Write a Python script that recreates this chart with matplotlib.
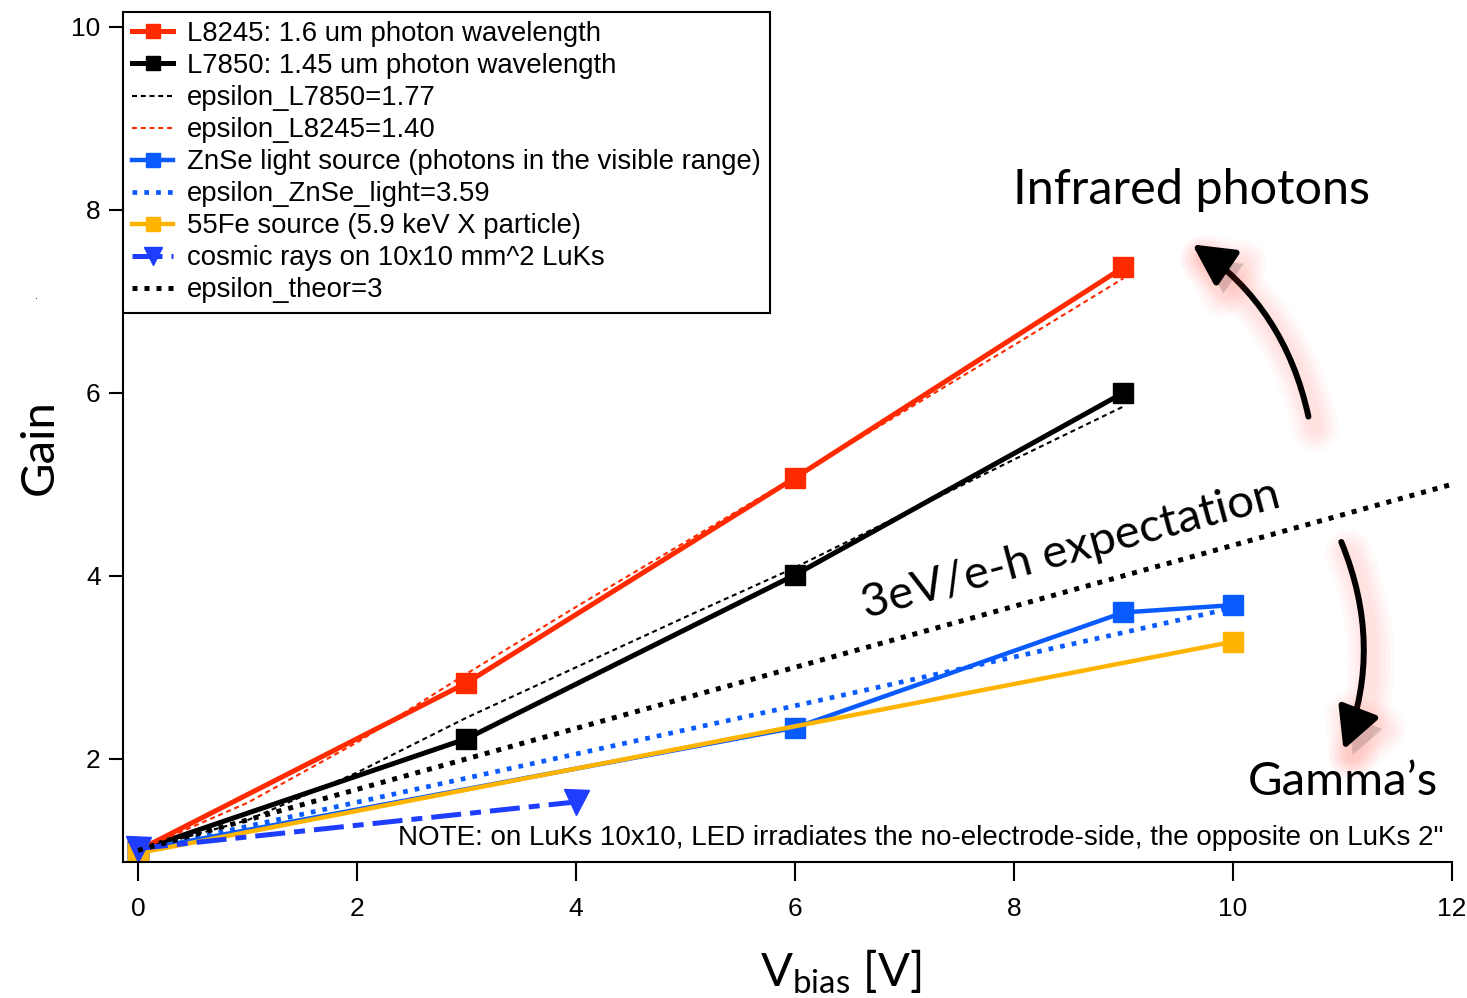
import numpy as np
import matplotlib.pyplot as plt
import matplotlib.patheffects as pe
from matplotlib.patches import FancyArrowPatch

plt.rcParams['font.family'] = ['Liberation Sans', 'DejaVu Sans']
plt.rcParams['mathtext.default'] = 'regular'

# gain vs bias voltage
v_l8245 = [0, 3, 6, 9]
g_l8245 = [1.0, 2.83, 5.07, 7.37]
v_l7850 = [0, 3, 6, 9]
g_l7850 = [1.0, 2.22, 4.01, 6.0]

v_fit = [0, 1, 2, 3, 4, 5, 6, 7, 8, 9]
g_fit_l7850 = [1.0, 1.33, 1.85, 2.45, 3.0, 3.55, 4.09, 4.68, 5.27, 5.85]
g_fit_l8245 = [1.0, 1.52, 2.18, 2.93, 3.66, 4.37, 5.08, 5.80, 6.52, 7.25]

v_znse = [0, 6, 9, 10]
g_znse = [1.0, 2.34, 3.60, 3.68]
v_fit_znse = [0, 3, 6, 9, 10]
g_fit_znse = [1.0, 1.79, 2.58, 3.38, 3.65]

v_fe55 = [0, 10]
g_fe55 = [0.97, 3.28]

v_cosmic = [0, 4]
g_cosmic = [1.02, 1.53]

v_theor = [0, 12]
g_theor = [1.0, 5.0]

red = '#ff2a00'
blue = '#0a5bff'
cosmic_blue = '#1f3dff'
orange = '#ffb400'

fig = plt.figure(figsize=(14.67, 9.98), dpi=100)
ax = fig.add_axes([0.0838, 0.1363, 0.9059, 0.8517])

ax.plot(v_l8245, g_l8245, color=red, lw=3.6, marker='s', ms=14,
        label='L8245: 1.6 um photon wavelength')
ax.plot(v_l7850, g_l7850, color='black', lw=3.6, marker='s', ms=14,
        label='L7850: 1.45 um photon wavelength')
ax.plot(v_fit, g_fit_l7850, color='black', lw=1.5, dashes=(2.4, 1.8),
        label='epsilon_L7850=1.77')
ax.plot(v_fit, g_fit_l8245, color=red, lw=1.5, dashes=(2.4, 1.8),
        label='epsilon_L8245=1.40')
ax.plot(v_znse, g_znse, color=blue, lw=3.2, marker='s', ms=14,
        label='ZnSe light source (photons in the visible range)')
ax.plot(v_fit_znse, g_fit_znse, color=blue, lw=3.4, dashes=(1, 1.5),
        label='epsilon_ZnSe_light=3.59')
ax.plot(v_fe55, g_fe55, color=orange, lw=3.2, marker='s', ms=14,
        label='55Fe source (5.9 keV X particle)')
ax.plot(v_cosmic, g_cosmic, color=cosmic_blue, lw=3.6, marker='v', ms=18,
        dashes=(6, 1.8, 2.2, 1.8), label='cosmic rays on 10x10 mm^2 LuKs')
ax.plot(v_theor, g_theor, color='black', lw=3.6, dashes=(1, 1.4),
        label='epsilon_theor=3')

ax.set_xlim(-0.137, 12.0)
ax.set_ylim(0.874, 10.16)
ax.set_xticks([0, 2, 4, 6, 8, 10, 12])
ax.set_yticks([2, 4, 6, 8, 10])
for s in ['top', 'right']:
    ax.spines[s].set_visible(False)
for s in ['left', 'bottom']:
    ax.spines[s].set_linewidth(1.5)
ax.tick_params(axis='y', direction='out', length=10, width=1.5, pad=6, labelsize=19)
ax.tick_params(axis='x', direction='out', length=14, width=1.5, pad=11, labelsize=19)

leg = ax.legend(loc='upper left', bbox_to_anchor=(0, 1), borderaxespad=0,
                fontsize=19.8, handlelength=1.5, handletextpad=0.5,
                labelspacing=0.22, borderpad=0.33, markerscale=0.75,
                fancybox=False, framealpha=1, edgecolor='black')
leg.get_frame().set_linewidth(1.5)

big = dict(family=['Lato', 'DejaVu Sans'], fontsize=34)
ax.text(7.99, 8.22, 'Infrared photons', ha='left', va='center',
        family=['Lato', 'DejaVu Sans'], fontsize=35)
ax.text(8.52, 4.28, '3eV/e-h expectation', ha='center', va='center',
        rotation=15, rotation_mode='anchor', **big)
ax.text(11.87, 1.75, 'Gamma\u2019s', ha='right', va='center', **big)
ax.text(11.92, 1.137,
        'NOTE: on LuKs 10x10, LED irradiates the no-electrode-side, the opposite on LuKs 2"',
        ha='right', va='center', fontsize=20)

fig.text(0.0273, 0.552, 'Gain', rotation=90, ha='center', va='center', **big)
fig.text(0.5733, 0.026, r'V$_{bias}$ [V]', ha='center', va='center', **big)
fig.text(0.024, 0.70, '.', fontsize=8)

glow = [pe.Stroke(linewidth=w, foreground='#ff5040', alpha=0.03, offset=(5, -8))
        for w in (34, 28, 22, 17, 12)]
glow.append(pe.Normal())
arrows = [((10.69, 5.74), (9.63, 7.62), 0.2),
          ((10.99, 4.37), (11.01, 2.10), -0.2)]
for tail, head, rad in arrows:
    arr = FancyArrowPatch(tail, head, connectionstyle='arc3,rad=%s' % rad,
                          arrowstyle='-|>,head_length=1.25,head_width=0.65',
                          mutation_scale=20, lw=4.3, color='black',
                          shrinkA=0, shrinkB=0, clip_on=False)
    arr.set_path_effects(glow)
    ax.add_patch(arr)

fig.savefig('out.png', dpi=100)
